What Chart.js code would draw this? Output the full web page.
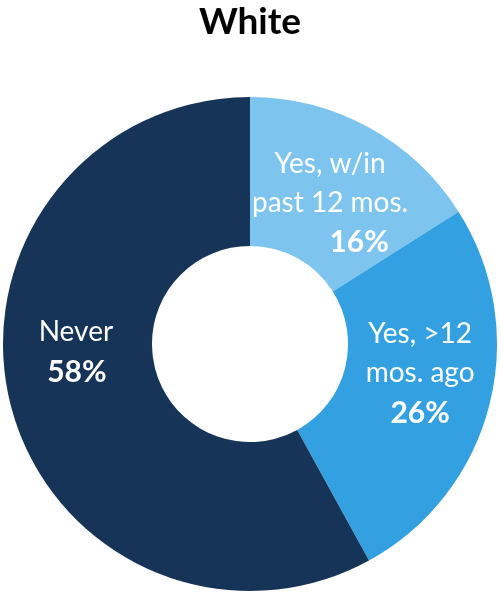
<!DOCTYPE html>
<html>
<head>
<meta charset="utf-8">
<script src="https://cdn.jsdelivr.net/npm/chart.js@4.4.1/dist/chart.umd.min.js"></script>
<style>
  html, body { margin: 0; padding: 0; background: #ffffff; }
  #wrap { width: 501px; height: 595px; position: relative; }
</style>
</head>
<body>
<div id="wrap"><canvas id="donut"></canvas></div>
<script>
var chart_title = "White";
var categories = [["Yes, w/in", "past 12 mos."], ["Yes, >12", "mos. ago"], ["Never"]];
var values = [16, 26, 58];
var colors = ["#7dc5ee", "#33a1e1", "#163457"];

// label block nudges relative to slice centroid, [dx, dy, pct dx]
var label_nudge = [[-3, 10, 29], [3, -14, 0], [-7, -35, 1]];

var labelPlugin = {
    id: "sliceLabels",
    afterDatasetsDraw: function(chart) {
        var ctx = chart.ctx;
        var meta = chart.getDatasetMeta(0);
        ctx.save();
        ctx.fillStyle = "#ffffff";
        ctx.textAlign = "center";
        ctx.textBaseline = "middle";
        meta.data.forEach(function(arc, i) {
            var mid = (arc.startAngle + arc.endAngle) / 2;
            var r = (arc.innerRadius + arc.outerRadius) / 2;
            var cx = arc.x + Math.cos(mid) * r + label_nudge[i][0];
            var cy = arc.y + Math.sin(mid) * r + label_nudge[i][1];
            var lines = categories[i];
            var n = lines.length + 1;
            var step = 39;
            var y = cy - (n - 1) * step / 2;
            ctx.font = "28px Lato";
            lines.forEach(function(t) {
                ctx.fillText(t, cx, y);
                y += step;
            });
            ctx.font = "bold 30px Lato";
            ctx.fillText(values[i] + "%", cx + label_nudge[i][2], y + 1);
        });
        ctx.restore();
    }
};

var data = {
    labels: categories.map(function(c) { return c.join(" "); }),
    datasets: [{
        data: values,
        backgroundColor: colors,
        borderWidth: 0,
        hoverOffset: 0
    }]
};

var options = {
    responsive: true,
    maintainAspectRatio: false,
    animation: false,
    cutout: "39.7%",
    layout: {
        padding: { top: 0, left: 3, right: 4, bottom: 4 }
    },
    plugins: {
        legend: { display: false },
        tooltip: { enabled: false },
        title: {
            display: true,
            text: chart_title,
            color: "#000000",
            font: { family: "Lato", size: 37, weight: "bold", lineHeight: 1.2 },
            padding: { top: 0, bottom: 52.6 }
        }
    }
};

var chart = new Chart(document.getElementById("donut").getContext("2d"), {
    type: "doughnut",
    data: data,
    options: options,
    plugins: [labelPlugin]
});
</script>
</body>
</html>
